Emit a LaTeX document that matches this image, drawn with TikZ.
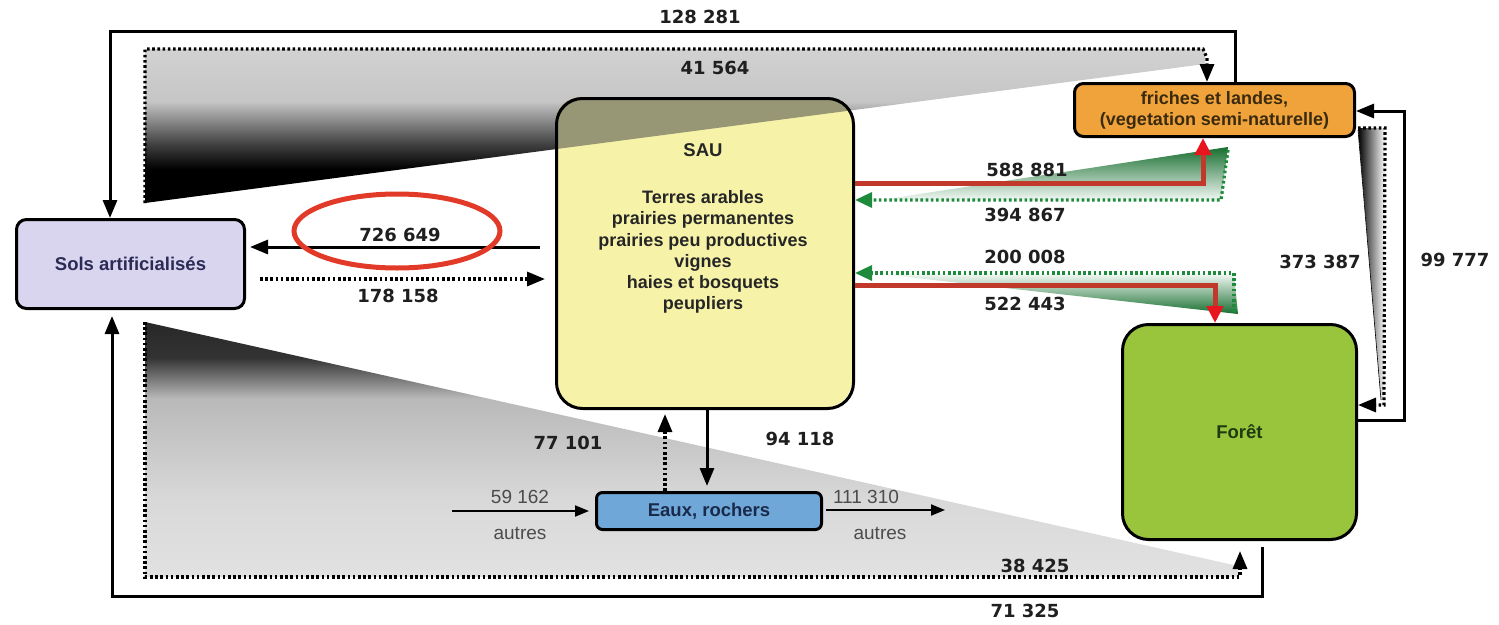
\documentclass[tikz,border=0pt]{standalone}
\usepackage{fontspec}
\setmainfont{Liberation Sans}
\newfontfamily\numfont{DejaVu Sans}
\usetikzlibrary{arrows.meta}
\definecolor{solsc}{HTML}{D9D5EE}
\definecolor{solst}{HTML}{2B2B55}
\definecolor{sauc}{HTML}{F6F3A9}
\definecolor{fric}{HTML}{F0A33A}
\definecolor{frit}{HTML}{3A2A10}
\definecolor{forc}{HTML}{99C53C}
\definecolor{fort}{HTML}{1E3A12}
\definecolor{eauc}{HTML}{6FA7D8}
\definecolor{eaut}{HTML}{1A2A4A}
\definecolor{redl}{HTML}{C0392B}
\definecolor{redtip}{HTML}{E8141E}
\definecolor{greenc}{HTML}{1E8A3C}
\definecolor{ellc}{HTML}{E23A28}
\pgfdeclareverticalshading{topwedge}{100bp}{color(0bp)=(black); color(36bp)=(black); color(44bp)=(black!75); color(58bp)=(gray!45); color(100bp)=(gray!22)}
\pgfdeclareverticalshading{botwedge}{100bp}{color(0bp)=(gray!12); color(40bp)=(gray!30); color(60bp)=(gray!55); color(68bp)=(black!80); color(100bp)=(black)}
\begin{document}
\begin{tikzpicture}[x=1pt,y=-1pt,
  box/.style={draw=black, line width=3pt, inner sep=0pt, anchor=north west,
    font=\fontsize{18.5}{21}\selectfont\bfseries, align=center},
  num/.style={font=\numfont\fontsize{18}{18}\selectfont\bfseries, text=black!88, inner sep=0pt},
  reg/.style={font=\fontsize{19}{19}\selectfont, text=black!70, inner sep=0pt},
  tip/.style={-{Triangle[length=18pt,width=14pt]}},
  smalltip/.style={-{Triangle[length=14pt,width=11pt]}},
  solidline/.style={line width=3pt},
  dotline/.style={line width=3.2pt, dash pattern=on 2.6pt off 2.6pt},
  redline/.style={line width=5pt, draw=redl, -{Triangle[length=17pt,width=16pt,color=redtip]}},
  greendot/.style={line width=3.2pt, draw=greenc, dash pattern=on 2.6pt off 2.6pt,
    -{Triangle[length=17pt,width=15pt]}},
]
\useasboundingbox (0,0) rectangle (1499,624);
\fill[white] (0,0) rectangle (1499,624);

% ---- shaded wedges (background)
\shade[shading=topwedge]
  (145,49) -- (1205,49) -- (1205,64) -- (145,203) -- cycle;
\shade[shading=botwedge]
  (145,322) -- (1238,566) -- (1238,577) -- (145,577) -- cycle;
\shade[left color=black, right color=white]
  (1358,128) -- (1385,128) -- (1385,398) -- (1381,400) -- cycle;
\draw[line width=0.6pt] (1358,130) -- (1381,400);
\shade[top color=greenc!80!black, bottom color=greenc!6]
  (1228,147) -- (1221,200) -- (880,200) -- cycle;
\shade[top color=greenc!6, bottom color=greenc!80!black]
  (880,274) -- (1234,274) -- (1238,314) -- cycle;

% ---- boxes
\node[box, fill=solsc, rounded corners=10pt, minimum width=228pt, minimum height=89pt,
  text=solst] (sols) at (15,218) {Sols artificialisés};

\fill[sauc, rounded corners=26pt] (555,97) rectangle (852,407);
\begin{scope}
  \clip[rounded corners=26pt] (555,97) rectangle (852,407);
  \fill[black!70, fill opacity=0.55] (145,49) -- (1205,49) -- (1205,64) -- (145,203) -- cycle;
\end{scope}
\node[box, rounded corners=26pt, minimum width=297pt, minimum height=310pt] (sau) at (555,97) {};
\node[font=\fontsize{18.5}{21}\selectfont\bfseries, text=black!85, inner sep=0pt] (sautitle) at (703,150) {SAU};
\node[font=\fontsize{18}{21.3}\selectfont\bfseries, text=black!85, align=center, inner sep=0pt]
  (saulist) at (703,252) {Terres arables\\prairies permanentes\\prairies peu productives\\vignes\\haies et bosquets\\peupliers};

\node[box, fill=fric, rounded corners=9pt, minimum width=280pt, minimum height=53pt,
  text=frit, font=\fontsize{18}{21}\selectfont\bfseries] (fri) at (1073,82)
  {friches et landes,\\(vegetation semi-naturelle)};
\node[box, fill=forc, rounded corners=26pt, minimum width=234pt, minimum height=215pt,
  text=fort] (foret) at (1121,323) {Forêt};
\node[box, fill=eauc, rounded corners=6pt, minimum width=225pt, minimum height=37pt,
  text=eaut] (eaux) at (595,491) {Eaux, rochers};

% ---- outer loops
\coordinate (t1) at (1235,31);
\coordinate (t2) at (110,31);
\draw[solidline, tip] (fri.north -| t1) -- (t1) -- (t2) -- (t2 |- sols.north);

\coordinate (b0) at (1262,547);
\coordinate (b1) at (1262,596);
\coordinate (b2) at (112,596);
\draw[solidline, tip, shorten >=6pt] (b0) -- (b1) -- (b2) -- (b2 |- sols.south);

\coordinate (r1) at (1404,420);
\coordinate (r2) at (1404,111);
\draw[solidline, tip] (foret.east |- r1) -- (r1) -- (r2) -- (fri.east |- r2);

% ---- dotted wedge outlines
\coordinate (w1) at (1207,58);
\draw[dotline, tip] (145,203) -- (145,49) -- (1203,49) -- (w1) -- (fri.north -| w1);
\coordinate (w2) at (1240,577);
\draw[dotline, tip] (145,322) -- (145,577) -- (w2) -- (1240,551);
\coordinate (w3) at (1384,405);
\draw[dotline, tip] (1358,128) -- (1385,128) -- (w3) -- (foret.east |- w3);

% ---- SAU <-> Sols
\coordinate (a1) at (540,247);
\draw[solidline, tip, shorten >=4pt] (a1) -- (sols.east |- a1);
\draw[dotline, tip, shorten <=14pt, shorten >=10pt] (sols.east |- 0,279) -- (sau.west |- 0,279);

% ---- SAU <-> Eaux
\draw[solidline, tip, shorten >=5pt] (sau.south -| 707,0) -- (eaux.north -| 707,0);
\draw[dotline, tip, shorten >=4pt] (eaux.north -| 665,0) -- (sau.south -| 665,0);
\draw[line width=2pt, smalltip, shorten >=6pt] (452,511) -- (eaux.west |- 0,511);
\draw[line width=2pt, smalltip, shorten <=3pt] (eaux.east |- 0,510) -- (945,510);

% ---- SAU <-> friches / foret
\draw[greendot] (1228,150) -- (1221,200) -- (sau.east |- 0,200);
\coordinate (g1) at (1203,183);
\draw[redline] (sau.east |- g1) -- (g1) -- (fri.south -| g1);
\draw[greendot] (1234,312) -- (1234,273) -- (sau.east |- 0,273);
\coordinate (g2) at (1215,285);
\draw[redline] (sau.east |- g2) -- (g2) -- (foret.north -| g2);

% ---- red ellipse
\draw[ellc, line width=5pt] (397,231) ellipse [x radius=103, y radius=37];

% ---- labels
\node[num] (l1) at (700,17) {128 281};
\node[num] (l2) at (715,68) {41 564};
\node[num] (l3) at (400,235) {726 649};
\node[num] (l4) at (398,296) {178 158};
\node[num] (l5) at (1027,170) {588 881};
\node[num] (l6) at (1025,215) {394 867};
\node[num] (l7) at (1025,257) {200 008};
\node[num] (l8) at (1025,304) {522 443};
\node[num] (l9) at (1320,262) {373 387};
\node[num] (l10) at (1455,260) {99 777};
\node[num] (l11) at (568,443) {77 101};
\node[num] (l12) at (800,439) {94 118};
\node[reg] (l13) at (520,497) {59 162};
\node[reg] (l14) at (520,533) {autres};
\node[reg] (l15) at (866,497) {111 310};
\node[reg] (l16) at (880,533) {autres};
\node[num] (l17) at (1035,566) {38 425};
\node[num] (l18) at (1025,611) {71 325};
\end{tikzpicture}
\end{document}
